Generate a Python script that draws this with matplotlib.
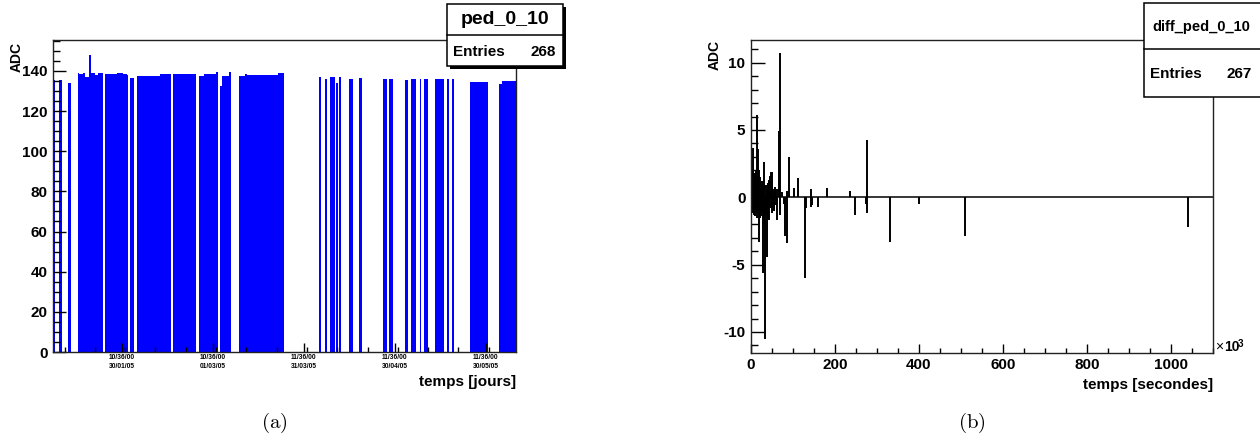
import matplotlib
matplotlib.use("Agg")
import matplotlib.pyplot as plt
from matplotlib.patches import Rectangle
from matplotlib.ticker import MultipleLocator

plt.rcParams["font.family"] = ["Liberation Sans", "DejaVu Sans"]
plt.rcParams["font.weight"] = "bold"
plt.rcParams["mathtext.fontset"] = "cm"
plt.rcParams["axes.unicode_minus"] = False

# ---- panel (a): pedestal vs time, days since 01/01/05 ----
seg_start = [6.3, 8.2, 11.25,
             14.45, 14.9, 16.2, 16.8, 18.2, 18.85, 20.1, 21.15,
             23.4, 27.2, 29.2, 30.5, 31.6,
             33.9, 41.5, 45.8, 49.5,
             54.4, 56.0, 60.0, 61.3, 62.0, 64.3,
             67.6, 69.6, 70.1, 80.6,
             94.1, 95.9, 97.6, 99.6, 100.6, 103.9, 107.3,
             115.2, 117.0, 122.4, 124.35, 127.2, 128.6,
             132.3, 136.1, 137.8, 143.8, 153.4, 154.4]
seg_end = [7.0, 9.1, 12.0,
           14.9, 16.2, 16.8, 18.2, 18.85, 20.1, 21.15, 22.6,
           27.2, 29.2, 30.5, 31.05, 32.9,
           41.5, 45.0, 49.5, 53.3,
           56.0, 60.0, 60.6, 62.0, 64.3, 64.8,
           69.6, 70.1, 80.6, 82.5,
           94.75, 96.6, 99.2, 100.25, 101.25, 105.1, 108.1,
           116.5, 118.4, 123.2, 126.0, 127.8, 129.8,
           135.1, 136.8, 138.4, 149.9, 154.4, 159.0]
seg_adc = [135.5, 135.5, 134.0,
           138.9, 138.4, 139.0, 137.2, 147.8, 138.9, 138.2, 139.0,
           138.5, 139.0, 138.3, 137.8, 136.4,
           137.5, 138.7, 138.3, 138.7,
           137.3, 138.3, 139.3, 132.5, 137.3, 139.3,
           137.5, 138.7, 137.8, 139.0,
           136.8, 136.0, 137.2, 134.2, 137.0, 136.0, 136.5,
           136.2, 135.9, 135.7, 135.9, 135.9, 135.9,
           135.9, 135.9, 135.9, 134.7, 133.6, 135.0]
date_ticks = [29, 59, 89, 119, 149]
date_labels = ["10/36/00\n30/01/05", "10/36/00\n01/03/05", "11/36/00\n31/03/05",
               "11/36/00\n30/04/05", "11/36/00\n30/05/05"]

# ---- panel (b): difference vs time (x 10^3 s) ----
diff_t = [1, 3, 5, 8, 11, 13.5, 16, 18, 20, 22, 25, 28, 30, 34, 38, 42, 45, 47, 50,
          53, 57, 63, 67, 69, 73, 85, 90, 103, 111, 143, 180, 236, 275,
          2, 4, 6, 10, 12, 15, 19, 21, 24, 26, 29, 31, 33, 36, 39, 44, 48, 55, 61,
          70, 78, 81, 86, 129, 131, 142, 146, 159, 247, 273, 277, 331, 401, 509, 1041,
          0.5, 1.5, 2.5, 3.5, 4.5, 6.5, 7, 7.5, 9, 9.5, 10.5, 12.5, 14, 14.5, 17,
          17.5, 19.5, 21.5, 23, 23.5, 26.5, 27, 32, 35, 37, 40, 41, 43, 46, 49, 51, 52,
          54, 58, 59]
diff_adc = [3.8, 2.0, 3.7, 1.5, 2.0, 6.1, 3.6, 1.2, 2.0, 1.5, 0.8, 1.0, 2.6, 0.9, 0.6,
            1.3, 1.5, 1.9, 1.9, 0.6, 0.5, 0.6, 4.9, 10.7, 0.4, 0.5, 3.0, 0.7, 1.4, 0.6,
            0.7, 0.45, 4.25,
            -0.8, -1.2, -0.5, -1.4, -0.7, -1.0, -3.3, -1.5, -0.9, -1.1, -5.6, -2.0,
            -10.5, -1.0, -4.4, -1.7, -0.8, -0.9, -1.7, -1.3, -0.5, -2.9, -3.4, -6.0,
            -0.8, -0.7, -0.6, -0.7, -1.3, -0.5, -1.2, -3.3, -0.5, -2.9, -2.2,
            2.4, -1.0, 1.2, -0.6, 2.0, -1.3, 1.6, 0.8, -1.2, 1.8, -0.9, 1.1, -1.5, 0.9,
            -0.8, 1.4, -1.1, 0.7, -1.4, 1.0, -0.7, 1.2, 0.6, -1.3, 0.9, -1.5, 1.1, -0.7,
            1.6, -1.2, 1.3, -0.6, -1.0, 0.8, -0.6]

W, H = 1260, 438


def fx(px):
    return px / W


def fy(py):
    return 1 - py / H


fig = plt.figure(figsize=(12.6, 4.38), dpi=100)

ax1 = fig.add_axes([fx(53), fy(352), 463 / W, 312 / H])
widths = [e - s for s, e in zip(seg_start, seg_end)]
ax1.bar(seg_start, seg_adc, width=widths, align="edge", color="#0000ff", linewidth=0)
ax1.set_xlim(6.2, 159.0)
ax1.set_ylim(0, 155.4)
ax1.yaxis.set_major_locator(MultipleLocator(20))
ax1.yaxis.set_minor_locator(MultipleLocator(5))
ax1.set_xticks(date_ticks)
ax1.set_xticklabels(date_labels, fontsize=4.8, fontweight="bold", linespacing=1.4)
ax1.xaxis.set_minor_locator(MultipleLocator(10))
ax1.tick_params(axis="y", which="major", direction="in", length=9.4, width=1, labelsize=11, pad=4)
ax1.tick_params(axis="y", which="minor", direction="in", length=5, width=1)
ax1.tick_params(axis="x", which="major", direction="in", length=6.5, width=1, pad=1.5)
ax1.tick_params(axis="x", which="minor", direction="in", length=3.6, width=1)

ax2 = fig.add_axes([fx(751), fy(353), 462 / W, 313.5 / H])
ax2.axhline(0, color="black", lw=1.1)
ax2.vlines(diff_t, 0, diff_adc, color="black", lw=1.4)
ax2.set_xlim(0, 1100)
ax2.set_ylim(-11.56, 11.72)
ax2.xaxis.set_major_locator(MultipleLocator(200))
ax2.xaxis.set_minor_locator(MultipleLocator(50))
ax2.yaxis.set_major_locator(MultipleLocator(5))
ax2.yaxis.set_minor_locator(MultipleLocator(1))
ax2.tick_params(axis="y", which="major", direction="in", length=10, width=1, labelsize=11, pad=4)
ax2.tick_params(axis="y", which="minor", direction="in", length=5, width=1)
ax2.tick_params(axis="x", which="major", direction="in", length=6.5, width=1, labelsize=11, pad=3.6)
ax2.tick_params(axis="x", which="minor", direction="in", length=3.6, width=1)

for ax in (ax1, ax2):
    for sp in ax.spines.values():
        sp.set_linewidth(1.0)
        sp.set_color("#222222")
    for lab in ax.get_xticklabels() + ax.get_yticklabels():
        lab.set_fontweight("bold")

# axis titles
fig.text(fx(17), fy(42), "ADC", rotation=90, ha="center", va="top", fontsize=10)
fig.text(fx(516), fy(375), "temps [jours]", ha="right", va="top", fontsize=11)
fig.text(fx(715), fy(40), "ADC", rotation=90, ha="center", va="top", fontsize=10)
fig.text(fx(1213), fy(378), "temps [secondes]", ha="right", va="top", fontsize=11)
fig.text(fx(1215), fy(354), "\u00d7", ha="left", va="bottom", fontsize=10, fontweight="normal")
fig.text(fx(1224), fy(354), "10", ha="left", va="bottom", fontsize=10)
fig.text(fx(1238), fy(339), "3", ha="left", va="top", fontsize=7)

# stats boxes
def box(x0, y0, x1, y1, ydiv, shadow):
    if shadow:
        fig.add_artist(Rectangle((fx(x0 + 3), fy(y1 + 3)), (x1 - x0) / W, (y1 - y0) / H,
                                 transform=fig.transFigure, facecolor="black", lw=0, zorder=5))
    fig.add_artist(Rectangle((fx(x0), fy(y1)), (x1 - x0) / W, (y1 - y0) / H,
                             transform=fig.transFigure, facecolor="white",
                             edgecolor="black", lw=1.1, zorder=6))
    fig.add_artist(plt.Line2D([fx(x0), fx(x1)], [fy(ydiv), fy(ydiv)],
                              transform=fig.transFigure, color="black", lw=1.1, zorder=7))


box(447, 4, 563, 65.5, 35, True)
fig.text(fx(505), fy(20), "ped_0_10", ha="center", va="center", fontsize=14, zorder=8)
fig.text(fx(453), fy(52), "Entries", ha="left", va="center", fontsize=11, zorder=8)
fig.text(fx(556), fy(52), "268", ha="right", va="center", fontsize=11, zorder=8)

box(1144, 3, 1263, 97, 49.3, False)
fig.text(fx(1201), fy(27), "diff_ped_0_10", ha="center", va="center", fontsize=10.5, zorder=8)
fig.text(fx(1150), fy(74), "Entries", ha="left", va="center", fontsize=11, zorder=8)
fig.text(fx(1252), fy(74), "267", ha="right", va="center", fontsize=11, zorder=8)

# captions
fig.text(fx(274), fy(423), r"$\mathrm{(a)}$", ha="center", va="center", fontsize=15)
fig.text(fx(972), fy(423), r"$\mathrm{(b)}$", ha="center", va="center", fontsize=15)

fig.savefig("out.png", dpi=100)
